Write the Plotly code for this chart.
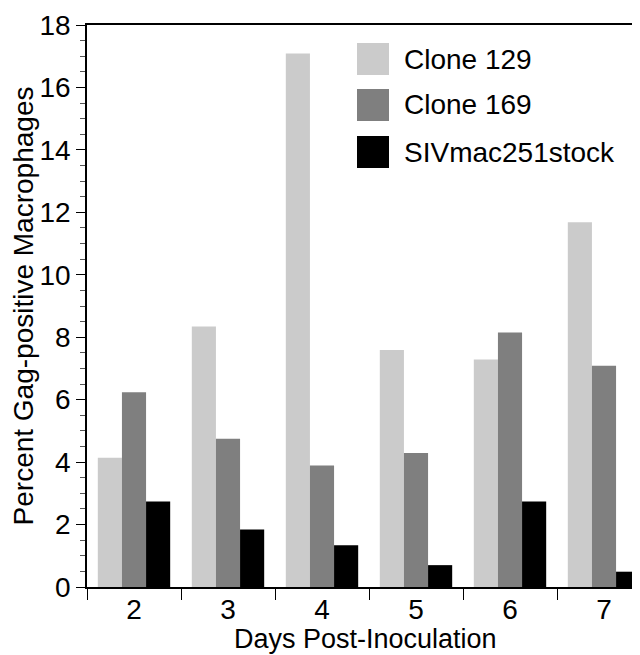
import plotly.graph_objects as go

days = [2, 3, 4, 5, 6, 7]
series_names = ["Clone 129", "Clone 169", "SIVmac251stock"]
clone129 = [4.14, 8.34, 17.09, 7.59, 7.29, 11.68]
clone169 = [6.24, 4.75, 3.89, 4.29, 8.15, 7.09]
sivstock = [2.74, 1.84, 1.34, 0.70, 2.74, 0.49]
colors = ["#cbcbcb", "#7f7f7f", "#000000"]
y_ticks = [0, 2, 4, 6, 8, 10, 12, 14, 16, 18]
x_title = "Days Post-Inoculation"
y_title = "Percent Gag-positive Macrophages"

FONT = "Liberation Sans, Arial, Helvetica, sans-serif"
OFF = 8  # default page body margin
W, H = 640 - OFF, 655 - OFF
ML, MR, MT, MB = 87 - OFF, 0, 25 - OFF, 68
FS = 28

fig = go.Figure()
for name, vals, col in zip(series_names, [clone129, clone169, sivstock], colors):
    fig.add_trace(go.Bar(x=days, y=vals, name=name, marker=dict(color=col, line=dict(width=0)),
                         showlegend=False))

plot_w = W - ML - MR
plot_h = H - MT - MB

def px_x(x):
    return (x - OFF - ML) / plot_w

def px_y(y):
    return (H - MB - (y - OFF)) / plot_h

shapes = []
annotations = []
key_tops = [43, 89, 136]
for name, col, top in zip(series_names, colors, key_tops):
    shapes.append(dict(type="rect", xref="paper", yref="paper",
                       x0=px_x(357), x1=px_x(389), y0=px_y(top + 32), y1=px_y(top),
                       fillcolor=col, line=dict(width=0)))
    annotations.append(dict(xref="paper", yref="paper", x=px_x(402), y=px_y(top + 16),
                            text=name, showarrow=False, xanchor="left", yanchor="middle",
                            font=dict(family=FONT, size=FS, color="black")))

# x-axis title
annotations.append(dict(xref="paper", yref="paper", x=px_x(365), y=px_y(639),
                        text=x_title, showarrow=False, xanchor="center", yanchor="middle",
                        font=dict(family=FONT, size=FS - 1, color="black")))

fig.update_layout(
    width=W, height=H,
    margin=dict(l=ML, r=MR, t=MT, b=MB),
    paper_bgcolor="white", plot_bgcolor="white",
    barmode="group", bargap=0.23, bargroupgap=0,
    shapes=shapes, annotations=annotations,
    font=dict(family=FONT, size=FS, color="black"),
    xaxis=dict(
        range=[1.5, 1.5 + plot_w / 94.0],
        tickmode="array", tickvals=days, ticktext=[str(d) for d in days],
        ticks="", showgrid=False, zeroline=False,
        showline=True, linecolor="black", linewidth=1.5, mirror=True,
        minor=dict(tickmode="array", tickvals=[d - 0.5 for d in days] + [days[-1] + 0.5],
                   ticks="outside", ticklen=11, tickcolor="black", tickwidth=1, showgrid=False),
        tickfont=dict(family=FONT, size=FS),
        ticklabelstandoff=-3,
        automargin=False,
    ),
    yaxis=dict(
        range=[0, 18], tickmode="array", tickvals=y_ticks,
        ticks="outside", ticklen=9, tickcolor="black", tickwidth=1,
        minor=dict(dtick=0.5, tick0=0, ticks="outside", ticklen=5, tickcolor="#555", tickwidth=1, showgrid=False),
        showgrid=False, zeroline=False,
        showline=True, linecolor="black", linewidth=1.5,
        tickfont=dict(family=FONT, size=FS),
        title=dict(text=y_title, font=dict(family=FONT, size=FS), standoff=4),
        automargin=False,
    ),
)

fig.write_html("out.html")
